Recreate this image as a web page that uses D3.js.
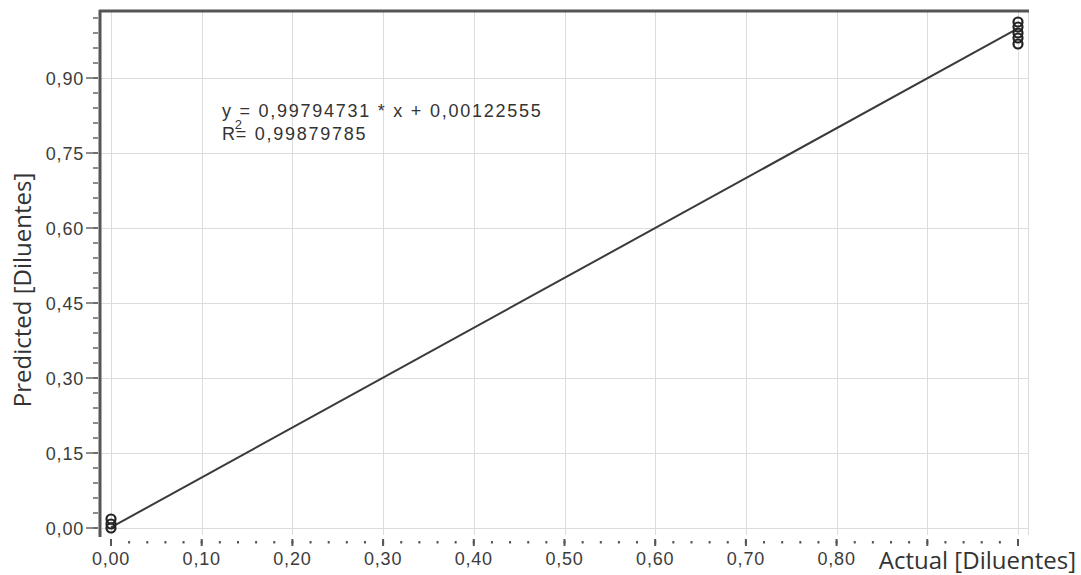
<!DOCTYPE html>
<html>
<head>
<meta charset="utf-8">
<script src="https://cdn.jsdelivr.net/npm/d3@7"></script>
<style>
  html, body { margin: 0; padding: 0; background: #fff; }
  svg { display: block; }
</style>
</head>
<body>
<svg id="chart" width="1081" height="575"></svg>
<script>
// Observed vs. predicted diluent fraction
const actualValues    = [0, 0, 0, 1, 1, 1, 1, 1];
const predictedValues = [0.018, 0.008, 0.0, 1.012, 1.002, 0.99, 0.98, 0.968];

// Fitted regression
const slope = 0.99794731;
const intercept = 0.00122555;
const equationText = "y = 0,99794731 * x + 0,00122555";
const r2Text = "= 0,99879785";

const xMajorTicks = [0, 0.1, 0.2, 0.3, 0.4, 0.5, 0.6, 0.7, 0.8, 0.9, 1.0];
const xLabelledTicks = [0, 0.1, 0.2, 0.3, 0.4, 0.5, 0.6, 0.7, 0.8];
const yMajorTicks = [0, 0.15, 0.30, 0.45, 0.60, 0.75, 0.90];

const xTitle = "Actual [Diluentes]";
const yTitle = "Predicted [Diluentes]";

const svg = d3.select("#chart");

const x = d3.scaleLinear().domain([0, 1]).range([111, 1018]);
const y = d3.scaleLinear().domain([0, 1]).range([528, 28]);

const plotL = 100, plotR = 1028, plotT = 11, plotB = 535;
const fmt = v => d3.format(".2f")(v).replace(".", ",");

// Minor tick positions
const xMinor = d3.range(0, 51).map(i => i * 0.02);
const yMinor = d3.range(0, 35).map(i => +(i * 0.03).toFixed(2));

// Grid
const grid = svg.append("g").attr("stroke", "#dcdcdc").attr("stroke-width", 1);
grid.selectAll("line.v").data(xMajorTicks).join("line")
  .attr("x1", d => Math.round(x(d)) + 0.5).attr("x2", d => Math.round(x(d)) + 0.5)
  .attr("y1", plotT).attr("y2", plotB);
grid.selectAll("line.h").data(yMajorTicks).join("line")
  .attr("x1", plotL).attr("x2", plotR)
  .attr("y1", d => Math.round(y(d)) + 0.5).attr("y2", d => Math.round(y(d)) + 0.5);
// right edge of plot frame
grid.append("line").attr("x1", plotR + 0.5).attr("x2", plotR + 0.5).attr("y1", plotT).attr("y2", plotB);

// Regression line
svg.append("line")
  .attr("x1", x(0)).attr("y1", y(intercept))
  .attr("x2", x(1)).attr("y2", y(slope + intercept))
  .attr("stroke", "#3a3a3a").attr("stroke-width", 2);

// Points
svg.append("g").selectAll("circle").data(actualValues.map((a, i) => [a, predictedValues[i]]))
  .join("circle")
  .attr("cx", d => x(d[0])).attr("cy", d => y(d[1]))
  .attr("r", 4.5)
  .attr("fill", "none").attr("stroke", "#222").attr("stroke-width", 2.2);

// Frame: left axis and top border
svg.append("line").attr("x1", plotL).attr("x2", plotL).attr("y1", plotT - 1).attr("y2", plotB + 2)
  .attr("stroke", "#555").attr("stroke-width", 3);
svg.append("line").attr("x1", plotL - 1).attr("x2", plotR + 1).attr("y1", plotT).attr("y2", plotT)
  .attr("stroke", "#555").attr("stroke-width", 3);

// Y axis ticks
const yAxis = svg.append("g").attr("stroke", "#666").attr("stroke-width", 1.5);
yAxis.selectAll("line.minor").data(yMinor).join("line")
  .attr("x1", 93).attr("x2", 98)
  .attr("y1", d => y(d)).attr("y2", d => y(d));
yAxis.selectAll("line.major").data(yMajorTicks).join("line")
  .attr("x1", 86).attr("x2", 98)
  .attr("y1", d => y(d)).attr("y2", d => y(d));

svg.append("g").selectAll("text").data(yMajorTicks).join("text")
  .attr("x", 84).attr("y", d => y(d) + 6.5)
  .attr("text-anchor", "end")
  .attr("font-family", "Liberation Sans, Arial, sans-serif")
  .attr("font-size", 18).attr("letter-spacing", 0.8).attr("fill", "#3c3c3c")
  .text(fmt);

// X axis ticks (dotted minor ticks, short major ticks)
const xAxis = svg.append("g").attr("stroke", "#555");
xAxis.selectAll("line.minor").data(xMinor).join("line")
  .attr("x1", d => x(d)).attr("x2", d => x(d))
  .attr("y1", 541).attr("y2", 543.5).attr("stroke-width", 2);
xAxis.selectAll("line.major").data(xMajorTicks).join("line")
  .attr("x1", d => x(d)).attr("x2", d => x(d))
  .attr("y1", 539).attr("y2", 546).attr("stroke-width", 2);

svg.append("g").selectAll("text").data(xLabelledTicks).join("text")
  .attr("x", d => x(d)).attr("y", 565)
  .attr("text-anchor", "middle")
  .attr("font-family", "Liberation Sans, Arial, sans-serif")
  .attr("font-size", 18).attr("letter-spacing", 0.8).attr("fill", "#3c3c3c")
  .text(fmt);

// Axis titles
svg.append("text")
  .attr("x", 1076).attr("y", 569)
  .attr("text-anchor", "end")
  .attr("font-family", "'Open Sans', sans-serif")
  .attr("font-size", 24).attr("fill", "#333")
  .text(xTitle);

svg.append("text")
  .attr("transform", "translate(31,290) rotate(-90)")
  .attr("text-anchor", "middle")
  .attr("font-family", "'Open Sans', sans-serif")
  .attr("font-size", 24).attr("fill", "#333")
  .text(yTitle);

// Regression equation
const eq = svg.append("g")
  .attr("font-family", "Liberation Sans, Arial, sans-serif")
  .attr("font-size", 18).attr("letter-spacing", 1.75).attr("fill", "#333");
eq.append("text").attr("x", 222).attr("y", 117).text(equationText);
const r2 = eq.append("text").attr("x", 222).attr("y", 140);
r2.append("tspan").text("R");
r2.append("tspan").attr("font-size", 13).attr("dy", -11).attr("dx", -2).text("2");
r2.append("tspan").attr("dy", 11).attr("dx", -8).text(r2Text);
</script>
</body>
</html>
